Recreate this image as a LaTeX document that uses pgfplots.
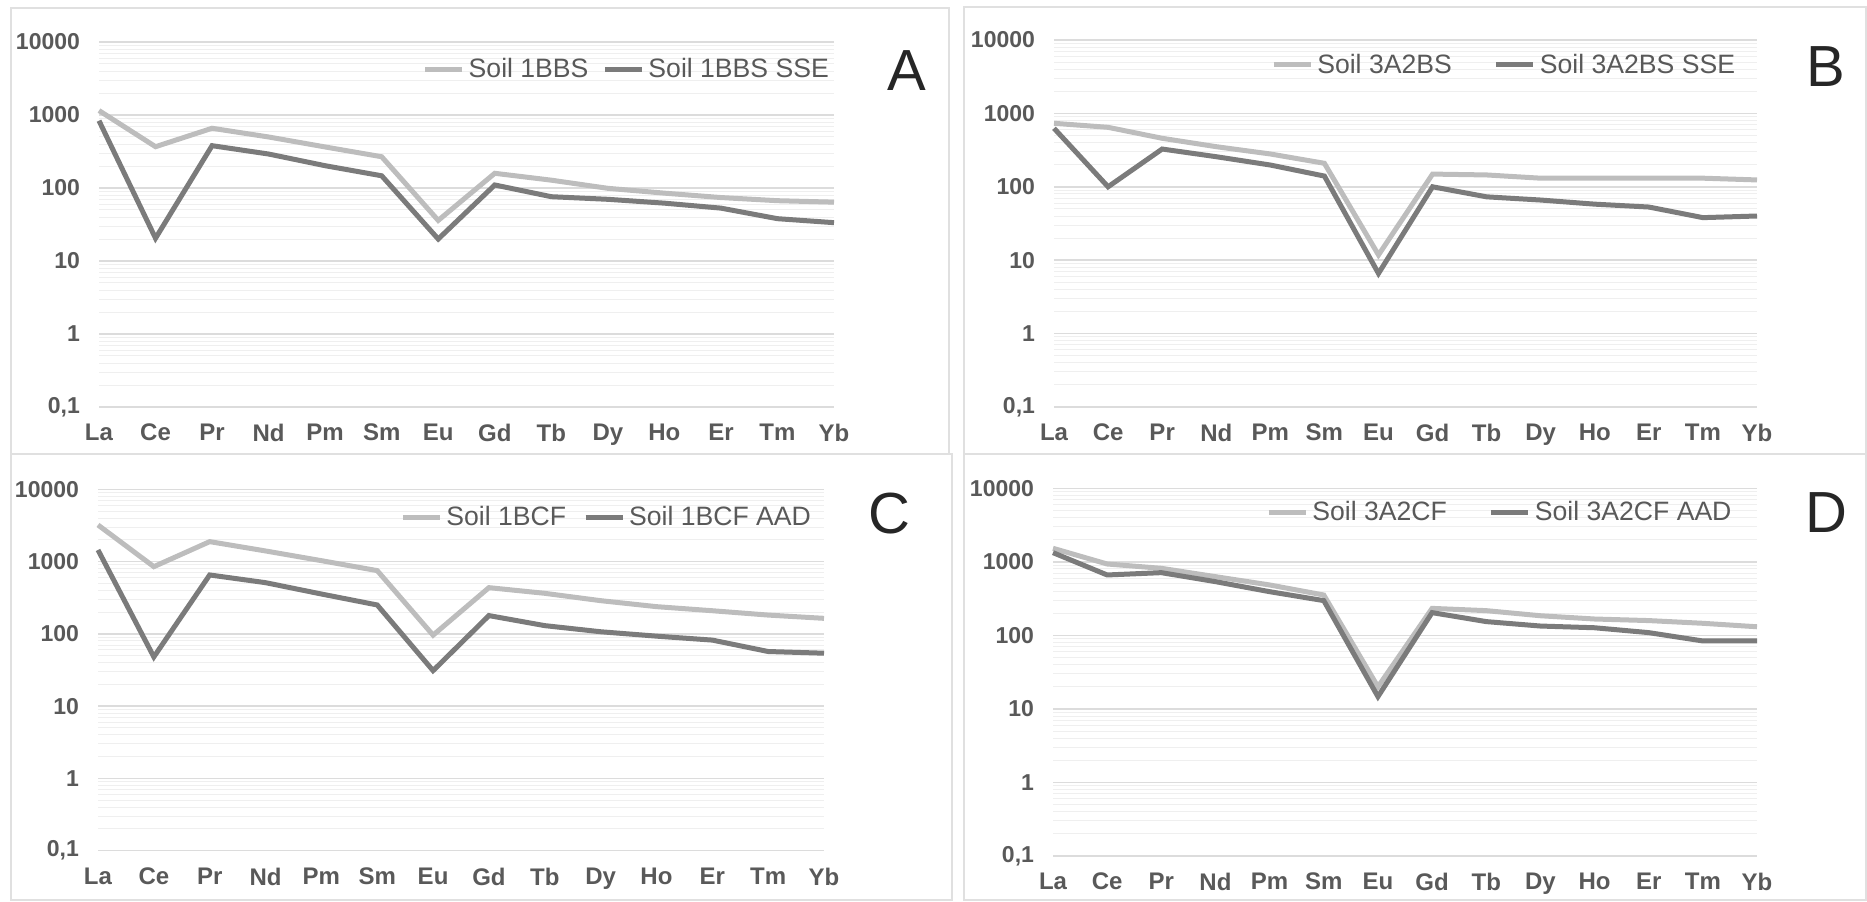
\documentclass[border=0pt]{standalone}
\usepackage{pgfplots}
\pgfplotsset{compat=1.18}
\usepackage{fontspec}
\setmainfont{Liberation Sans}
\definecolor{lightln}{HTML}{BDBDBD}
\definecolor{darkln}{HTML}{7B7B7B}
\definecolor{tickc}{HTML}{595959}
\definecolor{gridmaj}{HTML}{DCDCDC}
\definecolor{gridmin}{HTML}{EFEFEF}
\definecolor{framec}{HTML}{E0E0E0}
\definecolor{letterc}{HTML}{262626}
\pgfplotsset{
  legend image code/.code={\draw[#1] (0pt,0pt) -- (18.5pt,0pt);},
}
\pgfplotsset{
 reeaxis/.style={
  scale only axis,
  ymin=0.1, ymax=10000,
  xmin=0, xmax=13,
  xtick={0,...,13},
  xticklabels={La,Ce,Pr,Nd,Pm,Sm,Eu,Gd,Tb,Dy,Ho,Er,Tm,Yb},
  ytick={0.1,1,10,100,1000,10000},
  yticklabels={{0,1},1,10,100,1000,10000},
  minor ytick={0.2,0.3,0.4,0.5,0.6,0.7,0.8,0.9,2,3,4,5,6,7,8,9,20,30,40,50,60,70,80,90,200,300,400,500,600,700,800,900,2000,3000,4000,5000,6000,7000,8000,9000},
  ymajorgrids, yminorgrids,
  major grid style={gridmaj, line width=0.75pt},
  minor grid style={gridmin, line width=0.5pt},
  axis line style={draw=none},
  major tick length=0pt, minor tick length=0pt,
  tick style={draw=none},
  yticklabel style={font=\bfseries\fontsize{11.5}{12}\selectfont, text=tickc, xshift=-6pt},
  xticklabel style={font=\bfseries\fontsize{12}{13}\selectfont, text=tickc, yshift=-5pt},
  legend columns=2,
  legend style={draw=none, fill=none, inner sep=0pt, anchor=east,
     font=\fontsize{13.3}{14}\selectfont\color{tickc}},
  every axis plot/.append style={line width=2.5pt, line join=miter, no markers},
  clip=false,
 },
}
\begin{document}
\begin{tikzpicture}
\path[use as bounding box] (0,0) rectangle (933.5pt,450.5pt);
% panel frames
\draw[framec, line width=0.8pt] (5.5pt,223.5pt) rectangle (474.5pt,446.5pt);
\draw[framec, line width=0.8pt] (482pt,223.5pt) rectangle (933pt,447pt);
\draw[framec, line width=0.8pt] (5.5pt,0.5pt) rectangle (476pt,223.5pt);
\draw[framec, line width=0.8pt] (482pt,0.5pt) rectangle (933pt,223.5pt);

% Panel A
\begin{semilogyaxis}[reeaxis, at={(49.5pt,247pt)}, anchor=south west, width=367.5pt, height=182.5pt,
  legend style={at={(axis description cs:0.999,0.926)},
    /tikz/every even column/.append style={column sep=5pt}}]
\addplot[lightln] coordinates {(0,1150) (1,368) (2,658) (3,500) (4,365) (5,268) (6,36) (7,159) (8,128) (9,99) (10,85) (11,74) (12,67) (13,64)};
\addplot[darkln] coordinates {(0,835) (1,20.5) (2,380) (3,292) (4,202) (5,147) (6,20) (7,110) (8,76) (9,70) (10,62) (11,53) (12,38) (13,33.5)};
\legend{Soil 1BBS, Soil 1BBS SSE}
\end{semilogyaxis}

% Panel B
\begin{semilogyaxis}[reeaxis, at={(527pt,247pt)}, anchor=south west, width=351.5pt, height=183.5pt,
  legend style={at={(axis description cs:0.975,0.932)},
    /tikz/every even column/.append style={column sep=19pt}}]
\addplot[lightln] coordinates {(0,733) (1,646) (2,458) (3,352) (4,280) (5,209) (6,11.8) (7,149) (8,145) (9,131) (10,131) (11,131) (12,131) (13,124)};
\addplot[darkln] coordinates {(0,627) (1,100) (2,327) (3,257) (4,198) (5,140) (6,6.6) (7,100) (8,73) (9,66) (10,58) (11,53) (12,38) (13,40)};
\legend{Soil 3A2BS, Soil 3A2BS SSE}
\end{semilogyaxis}

% Panel C
\begin{semilogyaxis}[reeaxis, at={(49pt,25.15pt)}, anchor=south west, width=363pt, height=180.7pt,
  legend style={at={(axis description cs:0.988,0.923)},
    /tikz/every even column/.append style={column sep=6.5pt}}]
\addplot[lightln] coordinates {(0,3210) (1,851) (2,1888) (3,1403) (4,1030) (5,750) (6,96) (7,436) (8,364) (9,288) (10,238) (11,209) (12,182) (13,164)};
\addplot[darkln] coordinates {(0,1448) (1,48) (2,653) (3,511) (4,356) (5,251) (6,31) (7,179) (8,130) (9,107) (10,93) (11,82) (12,57) (13,54)};
\legend{Soil 1BCF, Soil 1BCF AAD}
\end{semilogyaxis}

% Panel D
\begin{semilogyaxis}[reeaxis, at={(526.5pt,22.5pt)}, anchor=south west, width=352pt, height=183.85pt,
  legend style={at={(axis description cs:0.97,0.9355)},
    /tikz/every even column/.append style={column sep=19pt}}]
\addplot[lightln] coordinates {(0,1529) (1,935) (2,817) (3,629) (4,485) (5,354) (6,20) (7,233) (8,217) (9,185) (10,167) (11,159) (12,146) (13,131)};
\addplot[darkln] coordinates {(0,1334) (1,663) (2,713) (3,538) (4,393) (5,297) (6,14.7) (7,204) (8,154) (9,134) (10,127) (11,109) (12,84) (13,84)};
\legend{Soil 3A2CF, Soil 3A2CF AAD}
\end{semilogyaxis}

% panel letters
\node[font=\fontsize{29}{30}\selectfont, text=letterc] at (453.5pt,415pt) {A};
\node[font=\fontsize{29}{30}\selectfont, text=letterc] at (913pt,417pt) {B};
\node[font=\fontsize{29}{30}\selectfont, text=letterc] at (444.5pt,193.5pt) {C};
\node[font=\fontsize{29}{30}\selectfont, text=letterc] at (913pt,194pt) {D};
\end{tikzpicture}
\end{document}
